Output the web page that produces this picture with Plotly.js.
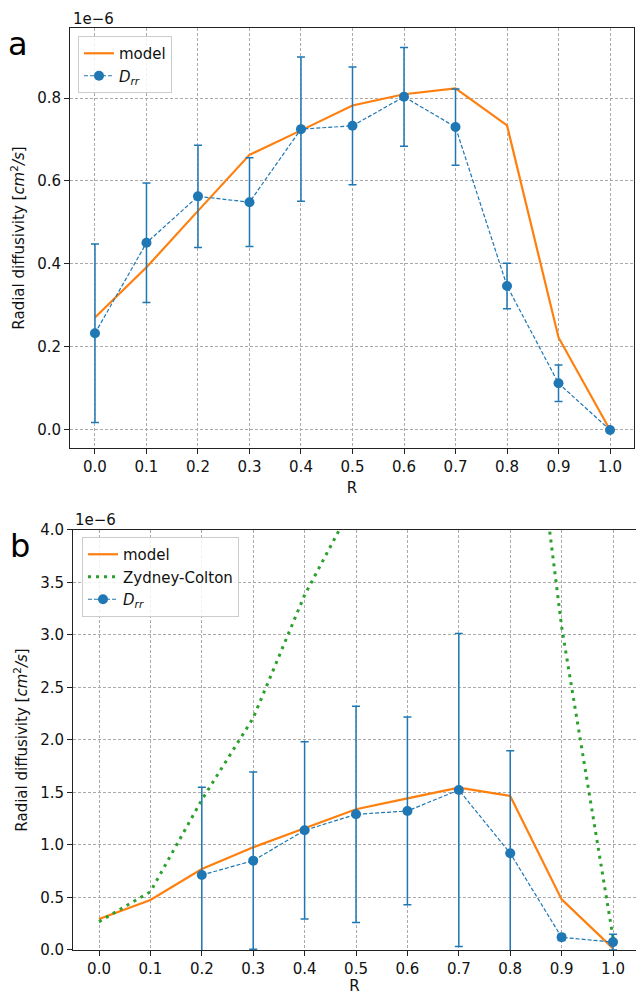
<!DOCTYPE html>
<html>
<head>
<meta charset="utf-8">
<script src="https://cdn.plot.ly/plotly-3.0.1.min.js"></script>
<style>html,body{margin:0;padding:0;background:#fff;}#chart{width:636px;height:995px;}</style>
</head>
<body>
<div id="chart"></div>
<script>
// Values in units of 1e-6 cm^2/s
const R = [0.0, 0.1, 0.2, 0.3, 0.4, 0.5, 0.6, 0.7, 0.8, 0.9, 1.0];
const xTickVals = [0.0, 0.1, 0.2, 0.3, 0.4, 0.5, 0.6, 0.7, 0.8, 0.9, 1.0];

// Panel a
const modelA = [0.271, 0.392, 0.528, 0.663, 0.722, 0.782, 0.809, 0.823, 0.734, 0.223, 0.0];
const drrA    = [0.233, 0.451, 0.563, 0.549, 0.725, 0.733, 0.803, 0.730, 0.347, 0.1125, 0.0];
const drrAErr = [0.215, 0.144, 0.123, 0.107, 0.174, 0.142, 0.119, 0.092, 0.055, 0.044, 0.0];
const yTicksA = [0.0, 0.2, 0.4, 0.6, 0.8];

// Panel b
const modelB = [0.295, 0.476, 0.771, 0.978, 1.159, 1.340, 1.444, 1.546, 1.467, 0.482, 0.015];
const zydneyColton = [0.27, 0.555, 1.43, 2.21, 3.38, 4.3, 5.5, 6.6, 7.0, 3.08, 0.12];
const R_B = [0.2, 0.3, 0.4, 0.5, 0.6, 0.7, 0.8, 0.9, 1.0];
const drrB    = [0.714, 0.851, 1.140, 1.292, 1.324, 1.524, 0.921, 0.121, 0.075];
const drrBErr = [0.835, 0.845, 0.844, 1.030, 0.894, 1.490, 0.977, 0.030, 0.075];
const yTicksB = [0.0, 0.5, 1.0, 1.5, 2.0, 2.5, 3.0, 3.5, 4.0];

const BLUE = '#1f77b4', ORANGE = '#ff7f0e', GREEN = '#2ca02c';
const FONT = 'DejaVu Sans, Arial, sans-serif';
const FS = 15;

const traces = [
  {x: R, y: modelA, xaxis: 'x', yaxis: 'y', mode: 'lines', name: 'model',
   line: {color: ORANGE, width: 2.2}, legend: 'legend'},
  {x: R, y: drrA, xaxis: 'x', yaxis: 'y', mode: 'lines+markers', name: '<i>D<sub>rr</sub></i>',
   line: {color: BLUE, width: 1.2, dash: '4px,2px'}, marker: {color: BLUE, size: 10},
   error_y: {type: 'data', array: drrAErr, visible: true, color: BLUE, thickness: 1.5, width: 4},
   legend: 'legend'},
  {x: R, y: modelB, xaxis: 'x2', yaxis: 'y2', mode: 'lines', name: 'model',
   line: {color: ORANGE, width: 2.2}, legend: 'legend2'},
  {x: R, y: zydneyColton, xaxis: 'x2', yaxis: 'y2', mode: 'lines', name: 'Zydney-Colton',
   line: {color: GREEN, width: 3, dash: '3px,5px'}, legend: 'legend2'},
  {x: R_B, y: drrB, xaxis: 'x2', yaxis: 'y2', mode: 'lines+markers', name: '<i>D<sub>rr</sub></i>',
   line: {color: BLUE, width: 1.2, dash: '4px,2px'}, marker: {color: BLUE, size: 10},
   error_y: {type: 'data', array: drrBErr, visible: true, color: BLUE, thickness: 1.5, width: 4},
   legend: 'legend2'}
];

const ytitle = {text: 'Radial diffusivity [<i>cm</i><sup>2</sup><i>/s</i>]', font: {family: FONT, size: FS, color: '#111'}, standoff: 8};
const commonAxis = {
  showline: true, linecolor: '#222', linewidth: 1,
  ticks: 'outside', ticklen: 5, tickcolor: '#222', tickwidth: 1,
  showgrid: true, gridcolor: '#aaaaaa', griddash: '3px,2px', gridwidth: 1,
  zeroline: false, tickfont: {family: FONT, size: FS, color: '#111'}, tickformat: '.1f'
};

const layout = {
  width: 636, height: 995,
  margin: {l: 70, r: 0, t: 0, b: 0},
  paper_bgcolor: '#fff', plot_bgcolor: '#fff',
  font: {family: FONT, size: FS, color: '#111'},
  xaxis: Object.assign({}, commonAxis, {domain: [0, 0.9965], range: [-0.0485, 1.0466], anchor: 'y', mirror: true,
    tickmode: 'array', tickvals: xTickVals,
    title: {text: 'R', font: {family: FONT, size: FS, color: '#111'}, standoff: 7}}),
  yaxis: Object.assign({}, commonAxis, {domain: [0.54975, 0.97186], range: [-0.0434, 0.9687], anchor: 'x', mirror: true,
    tickmode: 'array', tickvals: yTicksA, title: ytitle}),
  xaxis2: Object.assign({}, commonAxis, {domain: [0.0053, 1], range: [-0.0506, 1.0447], anchor: 'y2', mirror: true,
    tickmode: 'array', tickvals: xTickVals,
    title: {text: 'R', font: {family: FONT, size: FS, color: '#111'}, standoff: 6}}),
  yaxis2: Object.assign({}, commonAxis, {domain: [0.04523, 0.46734], range: [0, 4], anchor: 'x2', mirror: false,
    tickmode: 'array', tickvals: yTicksB, title: ytitle}),
  showlegend: true,
  legend: {x: 0.0141, y: 0.9638, xanchor: 'left', yanchor: 'top', bgcolor: 'rgba(255,255,255,0.85)',
    bordercolor: '#cccccc', borderwidth: 1, font: {family: FONT, size: FS, color: '#111'}, tracegroupgap: 0},
  legend2: {x: 0.0212, y: 0.4603, xanchor: 'left', yanchor: 'top', bgcolor: 'rgba(255,255,255,0.85)',
    bordercolor: '#cccccc', borderwidth: 1, font: {family: FONT, size: FS, color: '#111'}, tracegroupgap: 0},
  annotations: [
    {text: 'a', xref: 'paper', yref: 'paper', x: (18 - 70) / 566, y: 1 - 44 / 995, xanchor: 'center', yanchor: 'middle',
     showarrow: false, font: {family: FONT, size: 32, color: '#000'}},
    {text: 'b', xref: 'paper', yref: 'paper', x: (20 - 70) / 566, y: 1 - 546 / 995, xanchor: 'center', yanchor: 'middle',
     showarrow: false, font: {family: FONT, size: 32, color: '#000'}},
    {text: '1e\u22126', xref: 'paper', yref: 'paper', x: (71 - 70) / 566, y: 1 - 19 / 995, xanchor: 'left', yanchor: 'middle',
     showarrow: false, font: {family: FONT, size: FS, color: '#111'}},
    {text: '1e\u22126', xref: 'paper', yref: 'paper', x: (73 - 70) / 566, y: 1 - 520 / 995, xanchor: 'left', yanchor: 'middle',
     showarrow: false, font: {family: FONT, size: FS, color: '#111'}}
  ]
};

Plotly.newPlot('chart', traces, layout, {displayModeBar: false, staticPlot: true});
</script>
</body>
</html>
